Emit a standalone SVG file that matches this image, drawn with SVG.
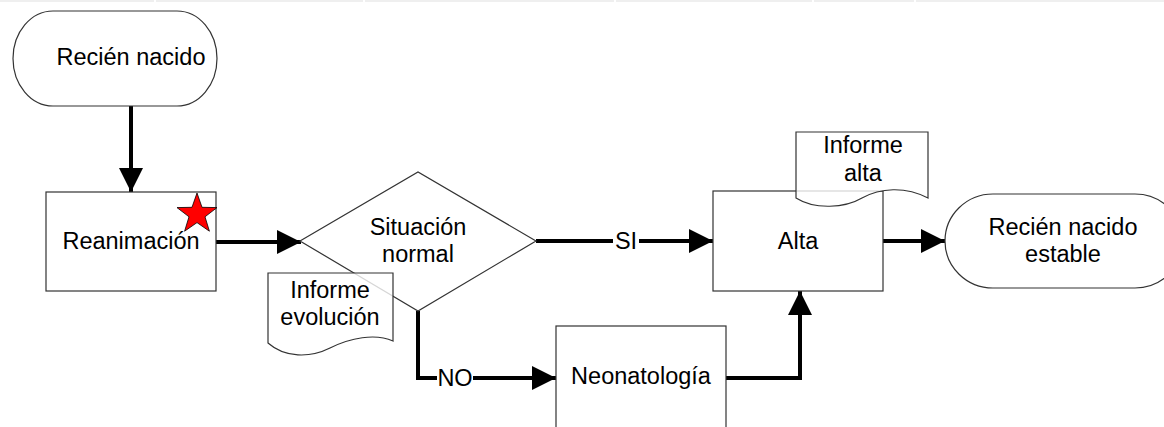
<svg xmlns="http://www.w3.org/2000/svg" width="1164" height="427" viewBox="0 0 1164 427">
<style>
.shape{fill:#fff;stroke:#333;stroke-width:1.2}
.doc{fill:#fff;fill-opacity:0.8;stroke:#333;stroke-width:1.2}
.conn{fill:none;stroke:#000;stroke-width:4}
.t{font-family:"Liberation Sans",Arial,sans-serif;font-size:23.5px;fill:#000;text-anchor:middle}
.hdr{fill:#efefef}
</style>
<defs>
<marker id="arr" markerUnits="userSpaceOnUse" markerWidth="24" markerHeight="24" refX="24" refY="12" orient="auto">
<path d="M0,0 L24,12 L0,24 Z" fill="#000"/>
</marker>
</defs>
<g id="header">
<rect class="hdr" x="0" y="0" width="154" height="2"/>
<rect class="hdr" x="156" y="0" width="207" height="2"/>
<rect class="hdr" x="365" y="0" width="249" height="2"/>
<rect class="hdr" x="616" y="0" width="196" height="2"/>
<rect class="hdr" x="814" y="0" width="100" height="2"/>
<rect class="hdr" x="916" y="0" width="248" height="2"/>
</g>
<g id="connectors">
<path class="conn" d="M131,106 V192" marker-end="url(#arr)"/>
<path class="conn" d="M216,242 H301" marker-end="url(#arr)"/>
<path class="conn" d="M536,241 H713" marker-end="url(#arr)"/>
<path class="conn" d="M418,311 V378 H556" marker-end="url(#arr)"/>
<path class="conn" d="M726,378 H800 V291" marker-end="url(#arr)"/>
<path class="conn" d="M883,241 H945" marker-end="url(#arr)"/>
<rect x="613" y="229" width="26" height="24" fill="#fff"/>
<text class="t" x="626" y="249">SI</text>
<rect x="437" y="366" width="36" height="24" fill="#fff"/>
<text class="t" x="455" y="386">NO</text>
</g>
<g id="n_recien_nacido">
<path class="shape" d="M53,11 H177 A40,47.5 0 0 1 177,106 H53 A40,47.5 0 0 1 53,11 Z"/>
<text class="t" x="131" y="65">Recién nacido</text>
</g>
<g id="n_reanimacion">
<rect class="shape" x="46" y="192" width="170" height="99"/>
<text class="t" x="131" y="249">Reanimación</text>
<polygon points="197,193 202,207.3 217,207.6 205,216.8 209.4,231.2 197,222.6 184.6,231.2 189,216.8 177,207.6 192,207.3" fill="#ff0000" stroke="#000" stroke-width="0.8"/>
</g>
<g id="n_situacion">
<polygon class="shape" points="300,241 418,172 536,241 418,311"/>
<text class="t" x="418" y="235">Situación</text>
<text class="t" x="418" y="262">normal</text>
</g>
<g id="n_informe_evolucion">
<path class="doc" d="M268,273 H393 V341 C375,333 350,338 330,348 C310,358 285,358 268,343 Z"/>
<text class="t" x="330" y="298">Informe</text>
<text class="t" x="330" y="325">evolución</text>
</g>
<g id="n_neonatologia">
<rect class="shape" x="556" y="326" width="170" height="110"/>
<text class="t" x="641" y="384">Neonatología</text>
</g>
<g id="n_alta">
<rect class="shape" x="713" y="191" width="170" height="100"/>
<text class="t" x="798" y="249">Alta</text>
</g>
<g id="n_informe_alta">
<path class="doc" d="M796,132 H928 V198 C905,186 880,188 862,198 C845,208 815,210 796,198 Z"/>
<text class="t" x="863" y="153">Informe</text>
<text class="t" x="863" y="181">alta</text>
</g>
<g id="n_recien_nacido_estable">
<path class="shape" d="M993,194 H1135 A48,47 0 0 1 1135,288 H993 A48,47 0 0 1 993,194 Z"/>
<text class="t" x="1063" y="235">Recién nacido</text>
<text class="t" x="1063" y="262">estable</text>
</g>
</svg>
